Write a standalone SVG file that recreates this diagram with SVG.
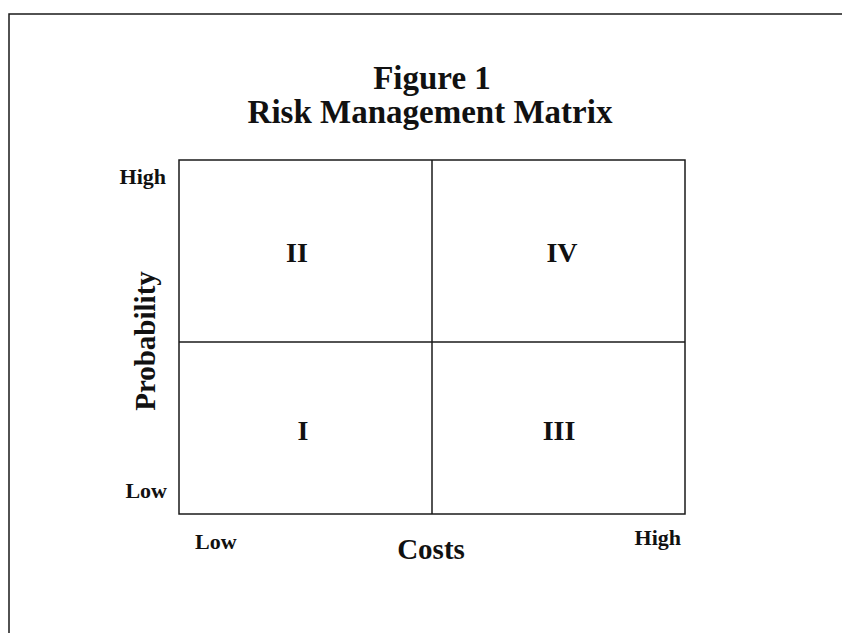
<svg xmlns="http://www.w3.org/2000/svg" width="842" height="633" viewBox="0 0 842 633">
<style>
text{font-family:"Liberation Serif","Times New Roman",serif;font-weight:bold;fill:#111}
.ln{stroke:#1a1a1a;stroke-width:1.5;fill:none}
.t{font-size:33px}
.ax{font-size:22px}
.lb{font-size:29px}
.q{font-size:28px}
</style>
<rect width="842" height="633" fill="#fff"/>
<g id="frame">
<path class="ln" d="M9,633 V14 H842"/>
</g>
<g id="title">
<text class="t" x="432" y="89" text-anchor="middle">Figure 1</text>
<text class="t" x="430" y="123" text-anchor="middle">Risk Management Matrix</text>
</g>
<g id="connectors">
<rect class="ln" x="179" y="160" width="506" height="354"/>
<line class="ln" x1="432" y1="160" x2="432" y2="514"/>
<line class="ln" x1="179" y1="342" x2="685" y2="342"/>
</g>
<g id="q2"><text class="q" x="297" y="262" text-anchor="middle">II</text></g>
<g id="q4"><text class="q" x="562" y="262" text-anchor="middle">IV</text></g>
<g id="q1"><text class="q" x="303" y="440" text-anchor="middle">I</text></g>
<g id="q3"><text class="q" x="559" y="440" text-anchor="middle">III</text></g>
<g id="yaxis">
<text class="ax" x="166" y="184" text-anchor="end">High</text>
<text class="ax" x="167" y="498" text-anchor="end">Low</text>
<text class="lb" transform="translate(155,341) rotate(-90)" text-anchor="middle">Probability</text>
</g>
<g id="xaxis">
<text class="ax" x="195" y="549">Low</text>
<text class="ax" x="681" y="545" text-anchor="end">High</text>
<text class="lb" x="431" y="559" text-anchor="middle">Costs</text>
</g>
</svg>
